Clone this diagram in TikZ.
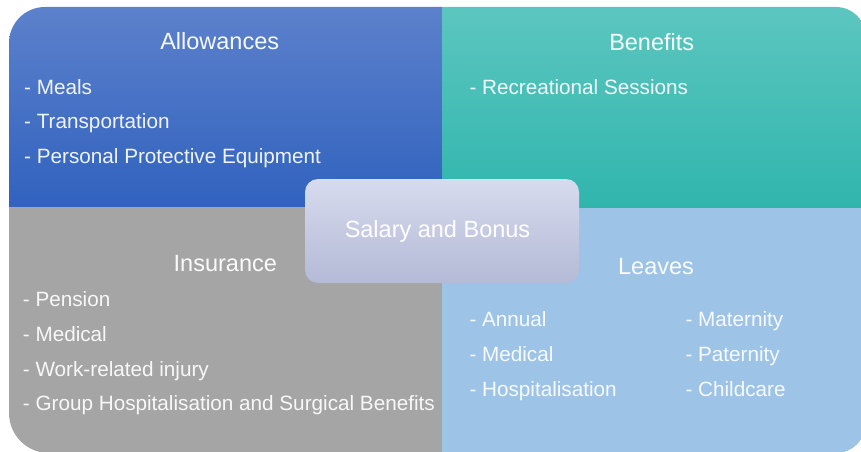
\documentclass[tikz,border=0pt]{standalone}
\usepackage{fontspec}
\setmainfont{Liberation Sans}
\definecolor{alltop}{HTML}{5E82CC}
\definecolor{allbot}{HTML}{3062BE}
\definecolor{bentop}{HTML}{5DC7C0}
\definecolor{benbot}{HTML}{30B5AD}
\definecolor{insgray}{HTML}{A5A5A5}
\definecolor{leavblue}{HTML}{9DC3E6}
\definecolor{saltop}{HTML}{D6DBEE}
\definecolor{salbot}{HTML}{B5BAD6}
\tikzset{
  title/.style={text=white, text opacity=0.95, inner sep=0pt, anchor=base, font=\fontsize{23.5}{28}\selectfont},
  item/.style={text=white, text opacity=0.92, inner sep=0pt, anchor=base west, font=\fontsize{20.7}{24}\selectfont},
  salarybox/.style={rounded corners=13pt, minimum width=274pt, minimum height=104pt, inner sep=0pt,
    top color=saltop, bottom color=salbot, text=white, font=\fontsize{23.5}{28}\selectfont},
}
\begin{document}
\begin{tikzpicture}[x=1pt,y=1pt]
\useasboundingbox (0,0) rectangle (861,451);
\begin{scope}
  \clip (49,-2) -- (836,-2) arc[start angle=-90,end angle=0,radius=30pt]
    -- (866,414) arc[start angle=0,end angle=90,radius=30pt]
    -- (45,444) arc[start angle=90,end angle=180,radius=36pt]
    -- (9,38) arc[start angle=180,end angle=270,radius=40pt] -- cycle;
  \shade[top color=alltop,bottom color=allbot] (0,244) rectangle (442,451);
  \shade[top color=bentop,bottom color=benbot] (442,243) rectangle (870,451);
  \fill[insgray] (0,-5) rectangle (442,244);
  \fill[leavblue] (442,-5) rectangle (870,243);
\end{scope}

% Allowances
\node[title] (allow) at (219.7,402) {Allowances};
\node[item] (a1) at (24,357) {- Meals};
\node[item] (a2) at (24,322.7) {- Transportation};
\node[item] (a3) at (24,287.7) {- Personal Protective Equipment};

% Benefits
\node[title] (ben) at (651.7,400) {Benefits};
\node[item] (b1) at (469.3,357) {- Recreational Sessions};

% Insurance
\node[title] (ins) at (225.3,180) {Insurance};
\node[item] (i1) at (22.7,144.3) {- Pension};
\node[item] (i2) at (22.7,110) {- Medical};
\node[item] (i3) at (22.7,75) {- Work-related injury};
\node[item] (i4) at (22.7,40.3) {- Group Hospitalisation and Surgical Benefits};

% Leaves
\node[title] (lea) at (656,177) {Leaves};
\node[item] (l1) at (469.3,124.3) {- Annual};
\node[item] (l2) at (469.3,89.7) {- Medical};
\node[item] (l3) at (469.3,55) {- Hospitalisation};
\node[item] (l4) at (685.3,124.3) {- Maternity};
\node[item] (l5) at (685.3,89.7) {- Paternity};
\node[item] (l6) at (685.3,55) {- Childcare};

% centre
\node[salarybox] (salary) at (442,220) {\hspace*{-9pt}Salary and Bonus};
\end{tikzpicture}
\end{document}
